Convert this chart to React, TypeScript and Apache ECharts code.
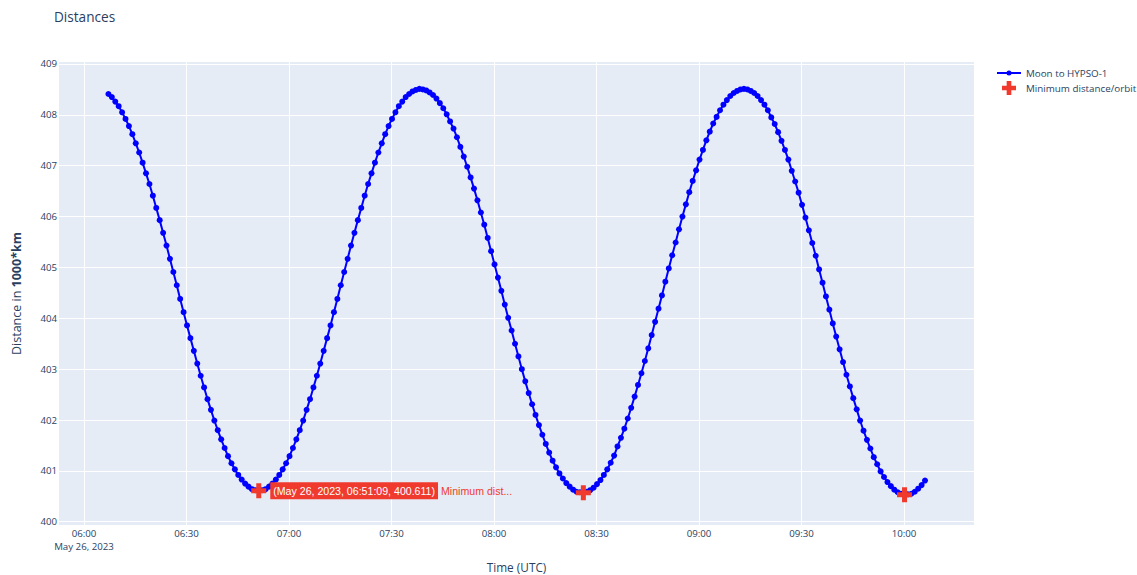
import React, { useEffect, useRef } from "react";
import * as echarts from "echarts";

const TITLE = "Distances";
const SERIES_NAME = "Moon to HYPSO-1";
const MIN_NAME = "Minimum distance/orbit";
const X_TITLE = "Time (UTC)";
const Y_TITLE = "Distance in {b|1000*km}";
const HOVER_NAME = "Minimum dist...";

// samples every minute starting at this time (UTC)
const START_TIME = "2023-05-26T06:07:09Z";
const STEP_SECONDS = 60;

// distance, 1000 km
const distances = [
  408.41, 408.35, 408.26, 408.17, 408.05, 407.92, 407.78, 407.62, 407.44,
  407.26, 407.06, 406.85, 406.64, 406.41, 406.17, 405.93, 405.68, 405.43, 405.17,
  404.91, 404.65, 404.38, 404.12, 403.86, 403.61, 403.36, 403.11, 402.87, 402.64,
  402.41, 402.20, 401.99, 401.80, 401.62, 401.45, 401.29, 401.15, 401.03, 400.92,
  400.83, 400.75, 400.69, 400.64, 400.62,
  400.611,
  400.62, 400.64, 400.69, 400.75, 400.83, 400.92, 401.03, 401.15, 401.29, 401.45,
  401.62, 401.80, 401.99, 402.20, 402.41, 402.64, 402.87, 403.11, 403.36, 403.61,
  403.86, 404.12, 404.38, 404.65, 404.91, 405.17, 405.43, 405.68, 405.93, 406.17,
  406.41, 406.64, 406.85, 407.06, 407.26, 407.44, 407.62, 407.78, 407.92, 408.05,
  408.17, 408.26, 408.35, 408.41, 408.46, 408.49, 408.51,
  408.50, 408.48, 408.44, 408.39, 408.32, 408.23, 408.13, 408.01, 407.87, 407.73,
  407.56, 407.37, 407.18, 406.98, 406.77, 406.55, 406.32, 406.08, 405.84, 405.58,
  405.32, 405.06, 404.80, 404.54, 404.27, 404.01, 403.76, 403.50, 403.25, 403.00,
  402.76, 402.53, 402.31, 402.10, 401.90, 401.71, 401.53, 401.36, 401.20, 401.07,
  400.95, 400.85, 400.76, 400.69, 400.63, 400.59, 400.58,
  400.57, 400.59, 400.62, 400.67, 400.74, 400.82, 400.92, 401.03, 401.16, 401.30,
  401.48, 401.65, 401.83, 402.03, 402.24, 402.46, 402.69, 402.92, 403.16, 403.41,
  403.67, 403.93, 404.19, 404.45, 404.72, 404.98, 405.24, 405.49, 405.75, 406.00,
  406.24, 406.48, 406.70, 406.91, 407.12, 407.31, 407.50, 407.67, 407.83, 407.96,
  408.09, 408.20, 408.29, 408.37, 408.43, 408.47, 408.50,
  408.51, 408.50, 408.47, 408.43, 408.37, 408.29, 408.20, 408.09, 407.95, 407.82,
  407.66, 407.49, 407.31, 407.12, 406.90, 406.69, 406.47, 406.23, 405.98, 405.73,
  405.48, 405.23, 404.96, 404.70, 404.43, 404.17, 403.90, 403.64, 403.39, 403.14,
  402.89, 402.66, 402.43, 402.21, 401.99, 401.79, 401.61, 401.44, 401.27, 401.13,
  400.99, 400.88, 400.78, 400.70, 400.63, 400.58, 400.55, 400.53,
  400.54, 400.55, 400.59, 400.65, 400.72, 400.81,
];

// minimum distance per orbit
const minTimes = ["2023-05-26T06:51:09Z", "2023-05-26T08:26:09Z", "2023-05-26T10:00:09Z"];
const minValues = [400.611, 400.57, 400.53];

// axis ranges
const X_MIN = "2023-05-26T05:52:41Z";
const X_MAX = "2023-05-26T10:20:29Z";
const Y_MIN = 399.936;
const Y_MAX = 409.039;
const X_TICK_MINUTES = 30;
const Y_TICK = 1;

const MONTHS = ["Jan", "Feb", "Mar", "Apr", "May", "Jun", "Jul", "Aug", "Sep", "Oct", "Nov", "Dec"];
const pad = (n: number) => String(n).padStart(2, "0");
const fmtDate = (d: Date) => `${MONTHS[d.getUTCMonth()]} ${d.getUTCDate()}, ${d.getUTCFullYear()}`;
const fmtHM = (d: Date) => `${pad(d.getUTCHours())}:${pad(d.getUTCMinutes())}`;
const fmtHMS = (d: Date) => `${fmtHM(d)}:${pad(d.getUTCSeconds())}`;

const FONT = '"Open Sans", verdana, arial, sans-serif';
const HOVER_FONT = "Arial, 'Liberation Sans', sans-serif";
const TEXT = "#2a3f5f";
const RED = "#F03A2E";
const BLUE = "#0000ff";
const CROSS = "path://M5,0H10V5H15V10H10V15H5V10H0V5H5Z";
const LINE_ICON = "path://M0,1.5H24V3.5H0Z M9.5,2.5A2.5,2.5 0 1,1 14.5,2.5A2.5,2.5 0 1,1 9.5,2.5Z";

export default function App() {
  const ref = useRef<HTMLDivElement>(null);
  useEffect(() => {
    if (!ref.current) return;
    const chart = echarts.init(ref.current, null, { renderer: "svg" });
    const startMs = Date.parse(START_TIME);
    const xMin = Date.parse(X_MIN);
    const xMax = Date.parse(X_MAX);
    const tickMs = X_TICK_MINUTES * 60000;
    const lineData = distances.map((v, i) => [startMs + i * STEP_SECONDS * 1000, v]);
    const minData = minTimes.map((t, i) => {
      const ms = Date.parse(t);
      const item: any = { value: [ms, minValues[i]] };
      if (i === 0) {
        const d = new Date(ms);
        const txt = `(${fmtDate(d)}, ${fmtHMS(d)}, ${minValues[i]})`;
        item.label = {
          show: true,
          position: "right",
          distance: 4,
          formatter: `{a|${txt}}{b|${HOVER_NAME}}`,
          rich: {
            a: {
              backgroundColor: RED,
              color: "#ffffff",
              fontSize: 10.6,
              fontFamily: HOVER_FONT,
              padding: [3, 3, 3, 3],
            },
            b: {
              color: RED,
              fontSize: 10.6,
              fontFamily: HOVER_FONT,
              padding: [0, 0, 0, 3],
            },
          },
        };
      }
      return item;
    });

    chart.setOption({
      animation: false,
      backgroundColor: "#ffffff",
      textStyle: { fontFamily: FONT, color: TEXT },
      title: {
        text: TITLE,
        left: 49,
        top: 4,
        textStyle: { fontFamily: FONT, fontSize: 13.6, fontWeight: "normal", color: TEXT },
      },
      legend: {
        orient: "vertical",
        left: 997,
        top: 68,
        padding: 0,
        itemWidth: 24,
        itemHeight: 14,
        itemGap: 3,
        textStyle: { fontFamily: FONT, fontSize: 9.8, color: TEXT },
        data: [
          { name: SERIES_NAME, icon: LINE_ICON },
          { name: MIN_NAME, icon: CROSS },
        ],
      },
      grid: {
        left: 59,
        right: 163,
        top: 62,
        bottom: 50,
        show: true,
        backgroundColor: "#E5ECF6",
        borderWidth: 0,
        containLabel: false,
        outerBoundsMode: "none",
      },
      xAxis: {
        type: "value",
        min: xMin,
        max: xMax,
        minInterval: tickMs,
        maxInterval: tickMs,
        name: X_TITLE,
        nameLocation: "middle",
        nameGap: 36,
        nameTextStyle: { fontFamily: FONT, fontSize: 11.8, color: TEXT },
        axisLine: { show: false },
        axisTick: { show: false },
        splitLine: { show: true, showMinLine: false, showMaxLine: false, lineStyle: { color: "#ffffff", width: 1 } },
        axisLabel: {
          showMinLabel: false,
          showMaxLabel: false,
          margin: 2,
          fontFamily: FONT,
          fontSize: 9.7,
          color: TEXT,
          lineHeight: 13,
          formatter: (v: number) => {
            const d = new Date(v);
            return v - xMin < tickMs ? `${fmtHM(d)}\n${fmtDate(d)}` : fmtHM(d);
          },
        },
      },
      yAxis: {
        type: "value",
        min: Y_MIN,
        max: Y_MAX,
        minInterval: Y_TICK,
        maxInterval: Y_TICK,
        name: Y_TITLE,
        nameLocation: "middle",
        nameGap: 36,
        nameTextStyle: {
          fontFamily: FONT,
          fontSize: 12.5,
          color: TEXT,
          rich: { b: { fontFamily: FONT, fontSize: 12.5, fontWeight: "bold", color: TEXT } },
        },
        axisLine: { show: false },
        axisTick: { show: false },
        splitLine: { show: true, showMinLine: false, showMaxLine: false, lineStyle: { color: "#ffffff", width: 1 } },
        axisLabel: {
          showMinLabel: false,
          showMaxLabel: false,
          margin: 2,
          fontFamily: FONT,
          fontSize: 9.7,
          color: TEXT,
          formatter: (v: number) => String(Math.round(v)),
        },
      },
      series: [
        {
          name: SERIES_NAME,
          type: "line",
          data: lineData,
          symbol: "circle",
          symbolSize: 6,
          showSymbol: true,
          lineStyle: { color: BLUE, width: 2 },
          itemStyle: { color: BLUE },
          z: 2,
        },
        {
          name: MIN_NAME,
          type: "scatter",
          data: minData,
          symbol: CROSS,
          symbolSize: 15,
          itemStyle: { color: RED, opacity: 1 },
          z: 3,
        },
      ],
    });
    return () => chart.dispose();
  }, []);
  return (
    <div
      ref={ref}
      style={{ position: "fixed", left: 0, top: 0, width: 1137, height: 575 }}
    />
  );
}
